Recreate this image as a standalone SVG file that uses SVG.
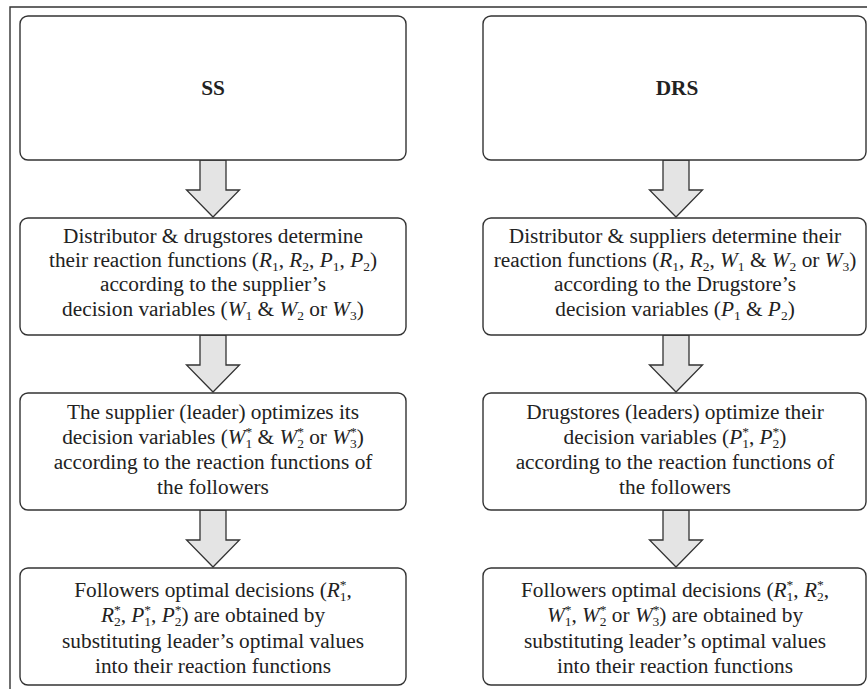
<svg xmlns="http://www.w3.org/2000/svg" width="867" height="689" viewBox="0 0 867 689">
<defs>
<style>
.box{fill:#fff;stroke:#333;stroke-width:1.4}
.arr{fill:#e4e4e4;stroke:#333;stroke-width:1.3;stroke-linejoin:miter}
.t{font-size:21.3px;fill:#222;text-anchor:middle}
.h{font-size:21.3px;font-weight:bold;fill:#222;text-anchor:middle}
.i{font-style:italic}
.s{font-size:13.5px}
.frame{fill:none;stroke:#333;stroke-width:1.4}
</style>
<path id="ar" class="arr" d="M-13,0 H13 V30 H26.5 L0,57 L-26.5,30 H-13 Z"/>
</defs>
<path class="frame" d="M10,689 V7 H867"/>

<g id="connectors">
<use href="#ar" x="213" y="160"/>
<use href="#ar" x="213" y="335"/>
<use href="#ar" x="213" y="510"/>
<use href="#ar" x="676" y="160"/>
<use href="#ar" x="676" y="335"/>
<use href="#ar" x="676" y="510"/>
</g>

<g font-family="'Liberation Serif', 'Times New Roman', serif">
<g id="ss">
<rect class="box" x="20" y="16" width="386" height="144" rx="8"/>
<text class="h" x="213" y="95">SS</text>
</g>

<g id="drs">
<rect class="box" x="483" y="16" width="383" height="144" rx="8"/>
<text class="h" x="677" y="95">DRS</text>
</g>

<g id="ss-step1">
<rect class="box" x="20" y="218" width="386" height="117" rx="8"/>
<text class="t" x="213" y="243">Distributor &amp; drugstores determine</text>
<text class="t" x="213" y="267">their reaction functions (<tspan class="i">R</tspan><tspan class="s" dy="4">1</tspan><tspan dy="-4">, </tspan><tspan class="i">R</tspan><tspan class="s" dy="4">2</tspan><tspan dy="-4">, </tspan><tspan class="i">P</tspan><tspan class="s" dy="4">1</tspan><tspan dy="-4">, </tspan><tspan class="i">P</tspan><tspan class="s" dy="4">2</tspan><tspan dy="-4">)</tspan></text>
<text class="t" x="213" y="291">according to the supplier’s</text>
<text class="t" x="213" y="316">decision variables (<tspan class="i">W</tspan><tspan class="s" dy="4">1</tspan><tspan dy="-4"> &amp; </tspan><tspan class="i">W</tspan><tspan class="s" dy="4">2</tspan><tspan dy="-4"> or </tspan><tspan class="i">W</tspan><tspan class="s" dy="4">3</tspan><tspan dy="-4">)</tspan></text>
</g>

<g id="ss-step2">
<rect class="box" x="20" y="393" width="386" height="117" rx="8"/>
<text class="t" x="213" y="419">The supplier (leader) optimizes its</text>
<text class="t" x="213" y="444">decision variables (<tspan class="i">W</tspan><tspan class="s" dy="-8">*</tspan><tspan class="s" dx="-6.8" dy="12">1</tspan><tspan dy="-4"> &amp; </tspan><tspan class="i">W</tspan><tspan class="s" dy="-8">*</tspan><tspan class="s" dx="-6.8" dy="12">2</tspan><tspan dy="-4"> or </tspan><tspan class="i">W</tspan><tspan class="s" dy="-8">*</tspan><tspan class="s" dx="-6.8" dy="12">3</tspan><tspan dy="-4">)</tspan></text>
<text class="t" x="213" y="469">according to the reaction functions of</text>
<text class="t" x="213" y="494">the followers</text>
</g>

<g id="ss-step3">
<rect class="box" x="20" y="568" width="386" height="117" rx="8"/>
<text class="t" x="213" y="597">Followers optimal decisions (<tspan class="i">R</tspan><tspan class="s" dy="-8">*</tspan><tspan class="s" dx="-6.8" dy="12">1</tspan><tspan dy="-4">,</tspan></text>
<text class="t" x="213" y="622"><tspan class="i">R</tspan><tspan class="s" dy="-8">*</tspan><tspan class="s" dx="-6.8" dy="12">2</tspan><tspan dy="-4">, </tspan><tspan class="i">P</tspan><tspan class="s" dy="-8">*</tspan><tspan class="s" dx="-6.8" dy="12">1</tspan><tspan dy="-4">, </tspan><tspan class="i">P</tspan><tspan class="s" dy="-8">*</tspan><tspan class="s" dx="-6.8" dy="12">2</tspan><tspan dy="-4">) are obtained by</tspan></text>
<text class="t" x="213" y="648">substituting leader’s optimal values</text>
<text class="t" x="213" y="673">into their reaction functions</text>
</g>

<g id="drs-step1">
<rect class="box" x="483" y="218" width="383" height="117" rx="8"/>
<text class="t" x="675" y="243">Distributor &amp; suppliers determine their</text>
<text class="t" x="675" y="267">reaction functions (<tspan class="i">R</tspan><tspan class="s" dy="4">1</tspan><tspan dy="-4">, </tspan><tspan class="i">R</tspan><tspan class="s" dy="4">2</tspan><tspan dy="-4">, </tspan><tspan class="i">W</tspan><tspan class="s" dy="4">1</tspan><tspan dy="-4"> &amp; </tspan><tspan class="i">W</tspan><tspan class="s" dy="4">2</tspan><tspan dy="-4"> or </tspan><tspan class="i">W</tspan><tspan class="s" dy="4">3</tspan><tspan dy="-4">)</tspan></text>
<text class="t" x="675" y="291">according to the Drugstore’s</text>
<text class="t" x="675" y="316">decision variables (<tspan class="i">P</tspan><tspan class="s" dy="4">1</tspan><tspan dy="-4"> &amp; </tspan><tspan class="i">P</tspan><tspan class="s" dy="4">2</tspan><tspan dy="-4">)</tspan></text>
</g>

<g id="drs-step2">
<rect class="box" x="483" y="393" width="383" height="117" rx="8"/>
<text class="t" x="675" y="419">Drugstores (leaders) optimize their</text>
<text class="t" x="675" y="444">decision variables (<tspan class="i">P</tspan><tspan class="s" dy="-8">*</tspan><tspan class="s" dx="-6.8" dy="12">1</tspan><tspan dy="-4">, </tspan><tspan class="i">P</tspan><tspan class="s" dy="-8">*</tspan><tspan class="s" dx="-6.8" dy="12">2</tspan><tspan dy="-4">)</tspan></text>
<text class="t" x="675" y="469">according to the reaction functions of</text>
<text class="t" x="675" y="494">the followers</text>
</g>

<g id="drs-step3">
<rect class="box" x="483" y="568" width="383" height="117" rx="8"/>
<text class="t" x="675" y="597">Followers optimal decisions (<tspan class="i">R</tspan><tspan class="s" dy="-8">*</tspan><tspan class="s" dx="-6.8" dy="12">1</tspan><tspan dy="-4">, </tspan><tspan class="i">R</tspan><tspan class="s" dy="-8">*</tspan><tspan class="s" dx="-6.8" dy="12">2</tspan><tspan dy="-4">,</tspan></text>
<text class="t" x="675" y="622"><tspan class="i">W</tspan><tspan class="s" dy="-8">*</tspan><tspan class="s" dx="-6.8" dy="12">1</tspan><tspan dy="-4">, </tspan><tspan class="i">W</tspan><tspan class="s" dy="-8">*</tspan><tspan class="s" dx="-6.8" dy="12">2</tspan><tspan dy="-4"> or </tspan><tspan class="i">W</tspan><tspan class="s" dy="-8">*</tspan><tspan class="s" dx="-6.8" dy="12">3</tspan><tspan dy="-4">) are obtained by</tspan></text>
<text class="t" x="675" y="648">substituting leader’s optimal values</text>
<text class="t" x="675" y="673">into their reaction functions</text>
</g>
</g>
</svg>
